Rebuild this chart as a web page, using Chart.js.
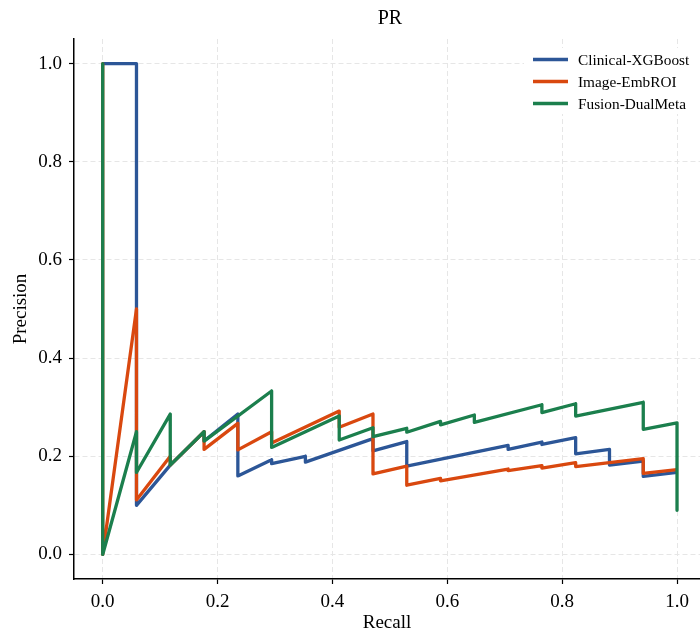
<!DOCTYPE html>
<html>
<head>
<meta charset="utf-8">
<script src="https://cdn.jsdelivr.net/npm/chart.js@4.4.0/dist/chart.umd.min.js"></script>
<style>
    html, body { margin: 0; padding: 0; background: #fff; }
</style>
</head>
<body>
<canvas id="myChart" width="700" height="633"></canvas>
<script>
// values
var chartTitle = 'PR';
var seriesNames = ['Clinical-XGBoost', 'Image-EmbROI', 'Fusion-DualMeta'];
var seriesColors = ['#2c5697', '#d9480f', '#1b7f4d'];

var xgbRecall = [0, 0.0588, 0.0588, 0.1176, 0.1765, 0.1765, 0.2353, 0.2353, 0.2941, 0.2941, 0.3529, 0.3529,
    0.4706, 0.4706, 0.5294, 0.5294, 0.7059, 0.7059, 0.7647, 0.7647, 0.8235, 0.8235, 0.8824, 0.8824, 0.9412, 0.9412, 1.0];
var xgbPrecision = [1.0, 1.0, 0.100, 0.182, 0.250, 0.231, 0.286, 0.160, 0.193, 0.185, 0.200, 0.188,
    0.236, 0.211, 0.230, 0.180, 0.222, 0.214, 0.229, 0.224, 0.238, 0.205, 0.214, 0.182, 0.190, 0.159, 0.167];

var roiRecall = [0, 0, 0.0588, 0.0588, 0.1176, 0.1176, 0.1765, 0.1765, 0.2353, 0.2353, 0.2941, 0.2941,
    0.4118, 0.4118, 0.4706, 0.4706, 0.5294, 0.5294, 0.5882, 0.5882, 0.7059, 0.7059, 0.7647, 0.7647,
    0.8235, 0.8235, 0.9412, 0.9412, 1.0];
var roiPrecision = [1.0, 0.0, 0.500, 0.111, 0.200, 0.182, 0.250, 0.214, 0.267, 0.213, 0.250, 0.227,
    0.292, 0.259, 0.286, 0.164, 0.180, 0.141, 0.155, 0.150, 0.174, 0.171, 0.181, 0.176, 0.187, 0.179,
    0.195, 0.165, 0.173];

var dualRecall = [0, 0, 0.0588, 0.0588, 0.1176, 0.1176, 0.1765, 0.1765, 0.2941, 0.2941, 0.4118, 0.4118,
    0.4706, 0.4706, 0.5294, 0.5294, 0.5882, 0.5882, 0.6471, 0.6471, 0.7647, 0.7647, 0.8235, 0.8235,
    0.9412, 0.9412, 1.0, 1.0];
var dualPrecision = [1.0, 0.0, 0.250, 0.167, 0.286, 0.182, 0.250, 0.231, 0.333, 0.218, 0.282, 0.233,
    0.258, 0.240, 0.257, 0.249, 0.271, 0.264, 0.284, 0.269, 0.305, 0.289, 0.307, 0.282, 0.310, 0.255,
    0.268, 0.090];

var recallTicks = [0.0, 0.2, 0.4, 0.6, 0.8, 1.0];
var precisionTicks = [0.0, 0.2, 0.4, 0.6, 0.8, 1.0];

var serif = '"Liberation Serif", "Times New Roman", serif';
var myChart;

function toPoints(xs, ys) {
    var pts = [];
    var i;
    for (i = 0; i < xs.length; i++) {
        pts.push({ x: xs[i], y: ys[i] });
    }
    return pts;
}

function makeDataset(idx, xs, ys, order) {
    return {
        label: seriesNames[idx],
        data: toPoints(xs, ys),
        borderColor: seriesColors[idx],
        backgroundColor: seriesColors[idx],
        borderWidth: 3.3,
        borderJoinStyle: 'round',
        borderCapStyle: 'butt',
        pointRadius: 0,
        tension: 0,
        fill: false,
        showLine: true,
        order: order
    };
}

// title and legend drawn by hand so they sit where matplotlib put them
const decorPlugin = {
    id: 'decor',
    afterDraw(chart) {
        const ctx = chart.ctx;
        const xs = chart.scales.x;
        ctx.save();

        ctx.fillStyle = '#000';
        ctx.font = '20px ' + serif;
        ctx.textAlign = 'center';
        ctx.textBaseline = 'middle';
        ctx.fillText(chartTitle, xs.getPixelForValue(0.5), 19);

        ctx.fillStyle = '#fff';
        ctx.fillRect(524, 48, 176, 66);

        ctx.font = '15.3px ' + serif;
        ctx.textAlign = 'left';
        var i;
        for (i = 0; i < chart.data.datasets.length; i++) {
            const ds = chart.data.datasets[i];
            const y = 59.5 + i * 22;
            ctx.strokeStyle = ds.borderColor;
            ctx.lineWidth = 3.3;
            ctx.beginPath();
            ctx.moveTo(533, y);
            ctx.lineTo(568, y);
            ctx.stroke();
            ctx.fillStyle = '#000';
            ctx.fillText(ds.label, 578, y + 1);
        }
        ctx.restore();
    }
};

function axisOpts(min, max, ticks, titleText) {
    return {
        type: 'linear',
        min: min,
        max: max,
        afterBuildTicks: function(scale) {
            scale.ticks = ticks.map(function(v) { return { value: v }; });
        },
        ticks: {
            color: '#000',
            font: { family: serif, size: 19 },
            padding: 7,
            callback: function(v) { return Number(v).toFixed(1); }
        },
        grid: {
            color: '#e6e6e6',
            lineWidth: 1,
            tickColor: '#000',
            tickLength: 5,
            tickWidth: 1.2,
            tickBorderDash: []
        },
        border: { display: true, color: '#000', width: 1.5, dash: [5, 3] },
        title: {
            display: true,
            text: titleText,
            color: '#000',
            font: { family: serif, size: 19, lineHeight: 1 }
        }
    };
}

function init_chart() {
    var ctx = document.getElementById('myChart').getContext('2d');

    const data = {
        datasets: [
            makeDataset(0, xgbRecall, xgbPrecision, 2),
            makeDataset(1, roiRecall, roiPrecision, 1),
            makeDataset(2, dualRecall, dualPrecision, 0)
        ]
    };

    var xAxis = axisOpts(-0.05, 1.04, recallTicks, 'Recall');
    xAxis.title.padding = { top: 0, bottom: 0 };
    xAxis.afterFit = function(scale) { scale.height = 54; };

    var yAxis = axisOpts(-0.05, 1.05, precisionTicks, 'Precision');
    yAxis.title.padding = { top: 12, bottom: 0 };
    yAxis.afterFit = function(scale) { scale.width = 74; };

    const config = {
        type: 'scatter',
        data: data,
        options: {
            responsive: false,
            animation: false,
            layout: { padding: { top: 39, right: 0, bottom: 0, left: 0 } },
            plugins: {
                legend: { display: false },
                title: { display: false },
                tooltip: { enabled: false }
            },
            scales: { x: xAxis, y: yAxis }
        },
        plugins: [decorPlugin]
    };

    myChart = new Chart(ctx, config);
}

init_chart();
</script>
</body>
</html>
